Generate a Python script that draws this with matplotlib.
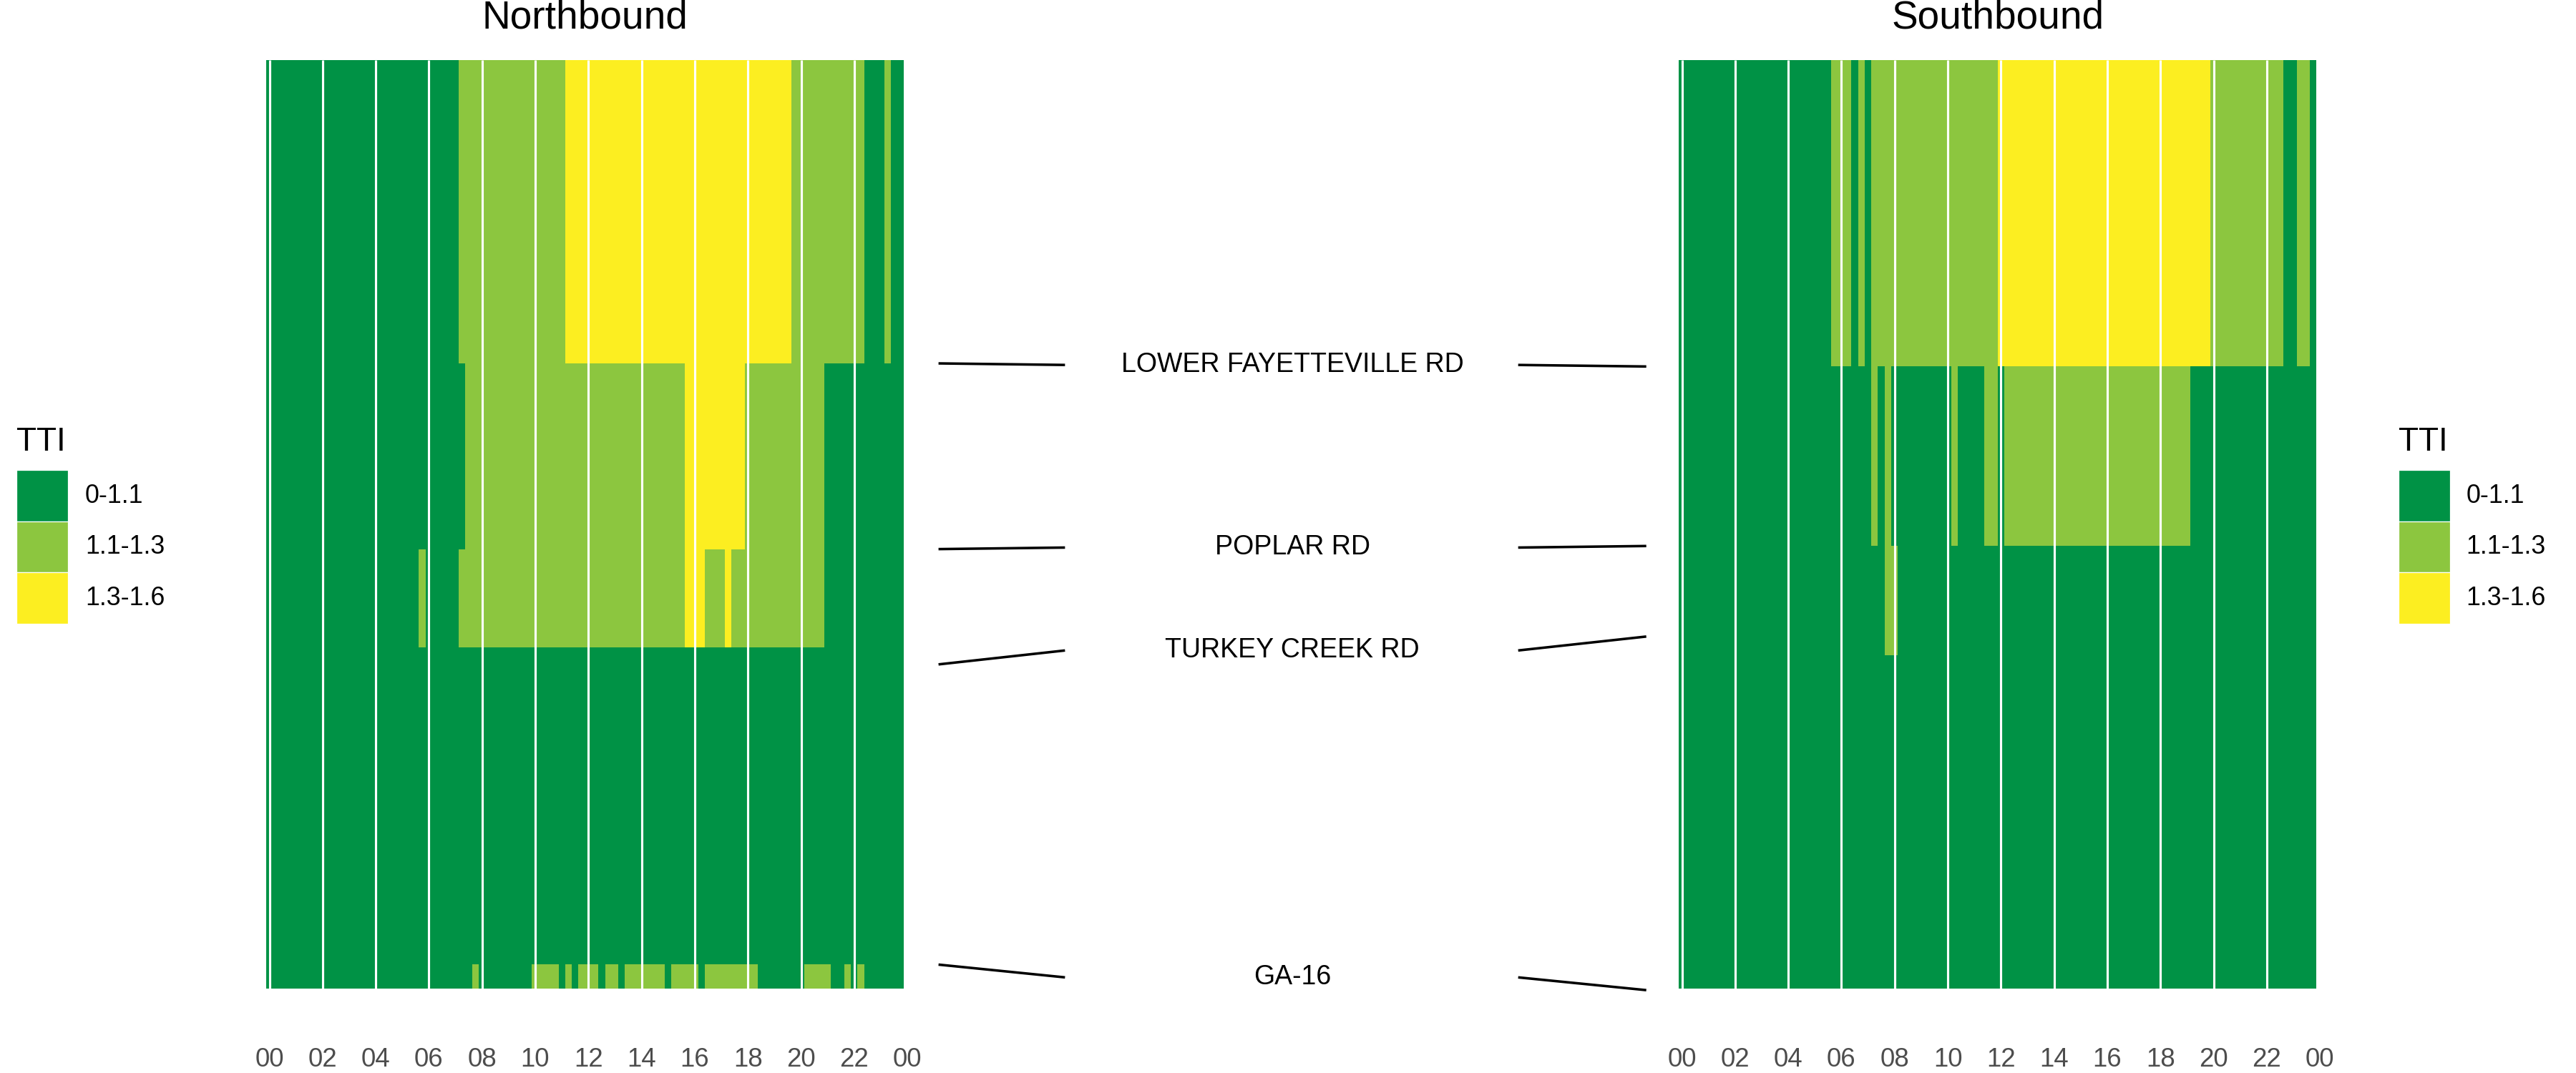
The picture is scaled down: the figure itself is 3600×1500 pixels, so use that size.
import numpy as np
import matplotlib
matplotlib.use("Agg")
import matplotlib.pyplot as plt
from matplotlib.colors import ListedColormap, BoundaryNorm
from matplotlib.patches import Rectangle
from matplotlib.transforms import blended_transform_factory

plt.rcParams['font.family'] = ['Liberation Sans', 'DejaVu Sans']

W, H, DPI = 3600, 1500, 300

# ---- data ----
TTI_LABELS = ["0-1.1", "1.1-1.3", "1.3-1.6"]
TTI_COLORS = ["#009245", "#8CC63F", "#FCEE21"]

HOUR_TICKS = [0, 2, 4, 6, 8, 10, 12, 14, 16, 18, 20, 22, 24]
HOUR_LABELS = ["00", "02", "04", "06", "08", "10", "12", "14", "16", "18", "20", "22", "00"]

# TTI class per 15-min bin (0 = 0-1.1, 1 = 1.1-1.3, 2 = 1.3-1.6), 8 bins per 2-hour block
# rows go from the south end (bottom) to the north end (top), edges in miles
NB_EDGES = [0.0, 0.31, 4.41, 5.68, 8.08, 12.0]
NB_ROWS = [
    "00000000 00000000 00000000 00000001 00000000 11110101 11011011 11110111 10111111 11000000 01111001 01000000",
    "00000000 00000000 00000000 00000000 00000000 00000000 00000000 00000000 00000000 00000000 00000000 00000000",
    "00000000 00000000 00000001 00000111 11111111 11111111 11111111 11111112 22111211 11111111 11110000 00000000",
    "00000000 00000000 00000000 00000011 11111111 11111111 11111111 11111112 22222222 11111111 11110000 00000000",
    "00000000 00000000 00000000 00000111 11111111 11111222 22222222 22222222 22222222 22222221 11111111 11000100",
]

SB_EDGES = [0.0, 4.31, 5.72, 8.04, 12.0]
SB_ROWS = [
    "00000000 00000000 00000000 00000000 00000000 00000000 00000000 00000000 00000000 00000000 00000000 00000000",
    "00000000 00000000 00000000 00000001 10000000 00000000 00000000 00000000 00000000 00000000 00000000 00000000",
    "00000000 00000000 00000000 00000101 00000000 01000011 01111111 11111111 11111111 11111000 00000000 00000000",
    "00000000 00000000 00000001 11010111 11111111 11111111 22222222 22222222 22222222 22222222 11111111 11100110",
]

INTERCHANGES = ["GA-16", "TURKEY CREEK RD", "POPLAR RD", "LOWER FAYETTEVILLE RD"]
NB_MILE = [0.31, 4.19, 5.68, 8.08]
SB_MILE = [-0.02, 4.55, 5.72, 8.04]


def to_grid(rows):
    return np.array([[int(c) for c in r.replace(" ", "")] for r in rows])


def px_axes(fig, x0, y0, x1, y1):
    # pixel box (top-left origin) -> figure fraction
    return fig.add_axes([x0 / W, 1 - y1 / H, (x1 - x0) / W, (y1 - y0) / H])


cmap = ListedColormap(TTI_COLORS)
norm = BoundaryNorm([-0.5, 0.5, 1.5, 2.5], cmap.N)
x_edges = np.arange(97) * 0.25 - 0.125
XMAX = 24.05
TOP, BOT = 84, 1382

fig = plt.figure(figsize=(W / DPI, H / DPI), dpi=DPI)


def heat_panel(x0, scale, edges, rows, title):
    left = x0 - 0.125 * scale
    right = x0 + XMAX * scale
    ax = px_axes(fig, left, TOP, right, BOT)
    grid = to_grid(rows)
    ax.pcolormesh(x_edges, edges, grid, cmap=cmap, norm=norm,
                  shading="flat", antialiased=False, linewidth=0)
    ax.vlines(HOUR_TICKS[:-1], 0, 12, colors="white", lw=0.75)
    ax.set_xlim(-0.125, XMAX)
    ax.set_ylim(0, 12)
    for s in ax.spines.values():
        s.set_visible(False)
    ax.set_yticks([])
    ax.set_xticks(HOUR_TICKS)
    ax.set_xticklabels(HOUR_LABELS)
    ax.tick_params(axis="x", length=0, pad=19.6, labelsize=8.8, labelcolor="#4D4D4D")
    tr = blended_transform_factory(ax.transData, ax.transAxes)
    ax.text(11.875, 1 + 44.7 / (BOT - TOP), title, transform=tr,
            ha="center", va="baseline", fontsize=13.2)
    return ax


ax_nb = heat_panel(376.5, 37.15, NB_EDGES, NB_ROWS, "Northbound")
ax_sb = heat_panel(2350.5, 37.15, SB_EDGES, SB_ROWS, "Southbound")

# middle panel with interchange names
ax_mid = px_axes(fig, 1311.6, TOP, 2300.7, BOT)
ax_mid.set_xlim(0, 1)
ax_mid.set_ylim(0, 12)
ax_mid.axis("off")
for name, n, s in zip(INTERCHANGES, NB_MILE, SB_MILE):
    ym = (n + s) / 2
    ax_mid.plot([0, 0.1787], [n, ym], color="black", lw=0.85,
                solid_capstyle="butt", clip_on=False)
    ax_mid.plot([0.819, 1], [ym, s], color="black", lw=0.85,
                solid_capstyle="butt", clip_on=False)
    ax_mid.text(0.5, ym, name, ha="center", va="center", fontsize=9)

# legends
ax_over = fig.add_axes([0, 0, 1, 1])
ax_over.set_xlim(0, W)
ax_over.set_ylim(H, 0)
ax_over.axis("off")
ax_over.patch.set_visible(False)


def draw_legend(x_key, x_text):
    ax_over.text(x_key, 630, "TTI", fontsize=11, ha="left", va="baseline")
    key = 71.5
    for i, (lab, col) in enumerate(zip(TTI_LABELS, TTI_COLORS)):
        top = 657.3 + i * key
        ax_over.add_patch(Rectangle((x_key, top), key, key, facecolor=col,
                                    edgecolor="white", lw=0.3))
        ax_over.text(x_text, top + key / 2, lab, fontsize=8.6, ha="left", va="center")


draw_legend(23, 119)
draw_legend(3352, 3446.7)

fig.savefig("out.png", dpi=DPI)
